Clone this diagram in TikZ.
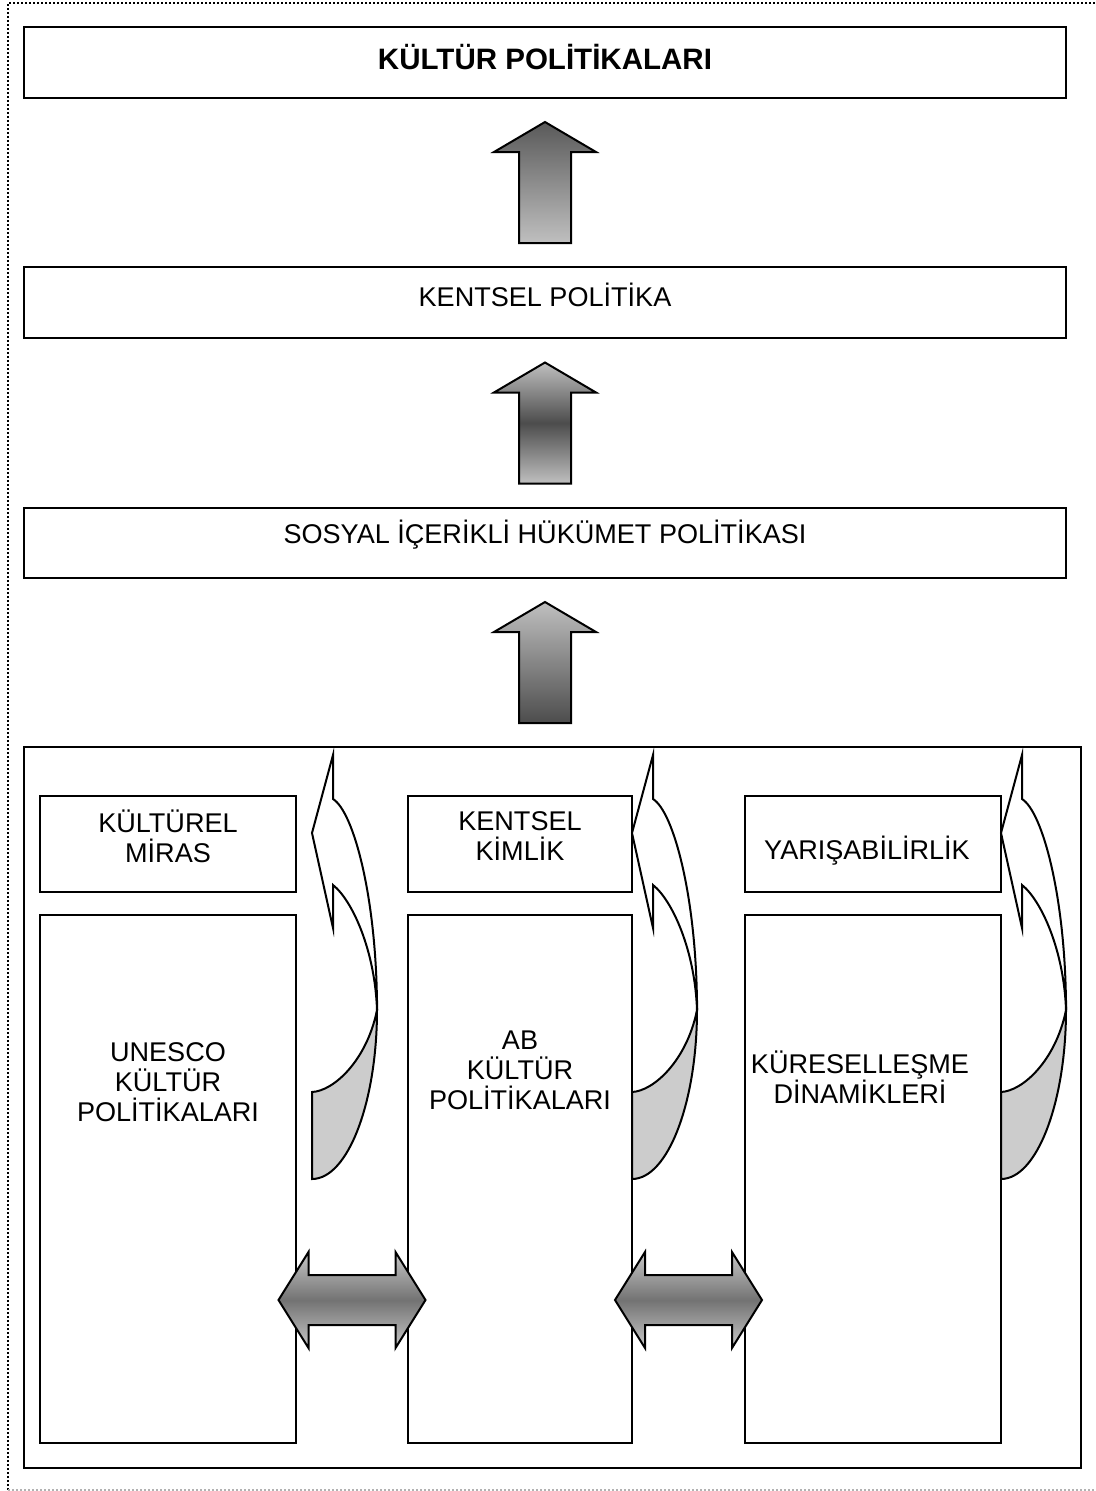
\documentclass[tikz,border=0pt]{standalone}
\usepackage{fontspec}
\setmainfont{Liberation Sans}
\usetikzlibrary{calc}
\begin{document}
\begin{tikzpicture}[x=0.2mm, y=-0.2mm,
  box/.style={draw, line width=0.45mm, rectangle, inner sep=0pt},
  wide/.style={box, minimum width=208.4mm, minimum height=14.2mm},
  head/.style={box, minimum height=19.2mm},
  col/.style={box, minimum height=105.6mm},
  lbl/.style={align=center, inner sep=0pt, font=\fontsize{15.4}{17.1}\selectfont},
  ttl/.style={lbl, font=\fontsize{16.8}{17.1}\selectfont\bfseries},
  blk/.style={draw, line width=0.4mm},
  grA/.style={blk, top color=black!65, bottom color=black!25},
  grB/.style={blk, top color=black!25, bottom color=black!25, middle color=black!70},
  grC/.style={blk, top color=black!25, bottom color=black!70},
  dbl/.style={blk, top color=black!22, bottom color=black!22, middle color=black!55},
  crv/.style={draw, line width=0.4mm, line join=miter, fill=white},
  back/.style={draw, line width=0.4mm, fill=black!20}
]
\useasboundingbox (0,0) rectangle (1096,1491);
% dotted page frame
\draw[line width=0.35mm, dash pattern=on 0.35mm off 0.45mm] (8,1490) -- (8,3) -- (1096,3);
\draw[black!30, line width=0.35mm, dash pattern=on 0.35mm off 0.45mm] (8,1490) -- (1096,1490);

% main boxes
\node[wide]                   (politika) at (545,62.5) {};
\node[wide]                   (kentsel)  at (545,302.5) {};
\node[wide, minimum height=14mm] (sosyal) at (545,543) {};
\node[box, minimum width=211.4mm, minimum height=144.2mm] (alan) at (552.5,1107.5) {};

\node[ttl] (tpolitika) at (545,57)  {KÜLTÜR POLİTİKALARI};
\node[lbl] (tkentsel)  at (545,295) {KENTSEL POLİTİKA};
\node[lbl] (tsosyal)   at (545,535) {SOSYAL İÇERİKLİ HÜKÜMET POLİTİKASI};

% columns
\node[head, minimum width=51.2mm] (miras)  at (168,844) {};
\node[head, minimum width=44.8mm] (kimlik) at (520,844) {};
\node[head, minimum width=51.2mm] (yaris)  at (873,844) {};
\node[col,  minimum width=51.2mm] (unesco) at (168,1179) {};
\node[col,  minimum width=44.8mm] (ab)     at (520,1179) {};
\node[col,  minimum width=51.2mm] (kures)  at (873,1179) {};

\node[lbl] (tmiras)  at (168,836)  {KÜLTÜREL\\MİRAS};
\node[lbl] (tkimlik) at (520,836)  {KENTSEL\\KİMLİK};
\node[lbl] (tyaris)  at (867,851)  {YARIŞABİLİRLİK};
\node[lbl] (tunesco) at (168,1082) {UNESCO\\KÜLTÜR\\POLİTİKALARI};
\node[lbl] (tab)     at (520,1070) {AB\\KÜLTÜR\\POLİTİKALARI};
\node[lbl] (tkures)  at (860,1077) {KÜRESELLEŞME\\DİNAMİKLERİ};

% block arrows between the levels
\coordinate (m1) at ($(politika.south)!.5!(kentsel.north)$);
\coordinate (m2) at ($(kentsel.south)!.5!(sosyal.north)$);
\coordinate (m3) at ($(sosyal.south)!.5!(sosyal.south |- alan.north)$);
\foreach \m/\g in {m1/grA, m2/grB, m3/grC}
  \draw[\g, shift={(\m)}] (0,-60.5) -- (51,-30.5) -- (26,-30.5) -- (26,60.5)
    -- (-26,60.5) -- (-26,-30.5) -- (-51,-30.5) -- cycle;

% double arrows between the columns
\coordinate (d1) at ($(unesco.east)!.5!(ab.west)+(0,121)$);
\coordinate (d2) at ($(ab.east)!.5!(kures.west)+(0,121)$);
\foreach \d in {d1, d2}
  \draw[dbl, shift={(\d)}] (-73.5,0) -- (-43.5,-48) -- (-43.5,-25) -- (43.5,-25)
    -- (43.5,-48) -- (73.5,0) -- (43.5,48) -- (43.5,25) -- (-43.5,25)
    -- (-43.5,48) -- cycle;

% curved arrows
\foreach \X in {312, 632, 1001} {
  \draw[back] (\X+65,1010) .. controls (\X+65,1102) and (\X+36,1179) .. (\X,1179)
    -- (\X,1092) .. controls (\X+22,1091) and (\X+55,1060) .. cycle;
  \draw[crv] (\X+21,755) -- (\X,833) -- (\X+21,928) -- (\X+21,885)
    .. controls (\X+40,900) and (\X+63,950) .. (\X+65,1010)
    .. controls (\X+65,900) and (\X+42,812) .. (\X+21,799) -- cycle;
}
\end{tikzpicture}
\end{document}
